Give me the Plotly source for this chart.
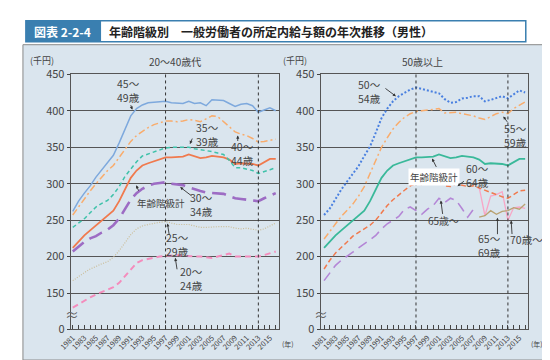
import plotly.graph_objects as go

years = list(range(1981, 2017))
years_65 = list(range(1981, 2008))
years_split = list(range(2008, 2017))

# Left panel (20~40s)
age45_49 = [262, 276, 287, 297, 309, 319, 328, 339, 356, 375, 393, 403, 408, 411, 412, 413, 413,
            411, 411, 410, 413, 410, 411, 407, 415, 415, 414, 410, 406, 409, 410, 407, 398, 401, 404, 400]
age40_44 = [257, 268, 280, 290, 300, 309, 318, 325, 336, 347, 358, 366, 372, 377, 381, 384, 386,
            386, 385, 386, 388, 387, 385, 389, 393, 392, 385, 377, 371, 368, 366, 362, 357, 358, 360, 361]
age35_39 = [240, 246, 252, 260, 268, 273, 277, 285, 296, 310, 320, 330, 338, 341, 344, 347, 349,
            350, 350, 350, 350, 348, 347, 345, 344, 342, 340, 332, 322, 322, 320, 318, 314, 316, 319, 322]
total = [212, 221, 229, 236, 243, 250, 257, 263, 276, 292, 308, 318, 325, 328, 331, 333, 336,
         336, 336, 337, 340, 337, 335, 336, 338, 337, 336, 333, 327, 328, 328, 327, 325, 330, 334, 334]
age30_34 = [207, 214, 220, 225, 228, 233, 237, 243, 252, 265, 278, 287, 293, 297, 300, 301, 302,
            300, 299, 298, 295, 292, 290, 288, 287, 287, 286, 283, 280, 279, 278, 277, 276, 280, 284, 287]
age25_29 = [167, 173, 178, 183, 187, 190, 193, 199, 208, 219, 230, 238, 242, 244, 246, 247, 248,
            246, 244, 244, 244, 242, 240, 240, 241, 241, 241, 241, 239, 238, 239, 238, 236, 238, 242, 246]
age20_24 = [130, 135, 139, 144, 148, 151, 154, 158, 164, 173, 183, 191, 195, 197, 199, 200, 201,
            202, 202, 201, 201, 200, 200, 199, 198, 200, 202, 204, 200, 200, 200, 200, 200, 202, 204, 207]

# Right panel (50+)
age50_54 = [257, 266, 279, 292, 303, 313, 324, 338, 351, 370, 390, 403, 413, 420, 425, 429, 432,
            430, 428, 427, 424, 416, 411, 412, 417, 418, 420, 420, 413, 415, 418, 420, 417, 423, 428, 425]
age55_59 = [224, 235, 245, 255, 263, 272, 283, 296, 314, 332, 350, 363, 375, 384, 391, 396, 399,
            400, 401, 402, 403, 397, 397, 398, 396, 395, 393, 390, 388, 392, 396, 398, 396, 403, 408, 412]
age60_64 = [183, 195, 205, 212, 220, 228, 233, 237, 243, 250, 260, 270, 278, 285, 291, 297, 300,
            299, 300, 303, 305, 297, 296, 300, 298, 296, 297, 294, 290, 287, 285, 282, 280, 285, 290, 291]
age65_over = [167, 178, 188, 195, 200, 206, 212, 217, 223, 229, 238, 245, 250, 255, 265, 268, 263,
              258, 265, 270, 280, 274, 280, 277, 266, 254, 265]
age65_69 = [254, 256, 263, 258, 262, 263, 267, 265, 272]
age70_over = [295, 256, 283, 285, 289, 250, 267, 268, 266]

y_tickvals = [100, 150, 200, 250, 300, 350, 400, 450]
y_ticktext = ["0", "150", "200", "250", "300", "350", "400", "450"]
x_label_years = list(range(1981, 2017, 2))

W, H = 550, 360
FONT = "Noto Sans CJK JP"


def px(x):
    return x / W


def py(y):
    return 1 - y / H


fig = go.Figure()


def add(x, y, color, dash, width, xa, ya, name):
    fig.add_trace(go.Scatter(x=x, y=y, mode="lines", name=name, xaxis=xa, yaxis=ya,
                             line=dict(color=color, dash=dash, width=width),
                             showlegend=False, hoverinfo="skip"))


# left
add(years, age20_24, "#f48cbc", "6px,4px", 2.0, "x", "y", "20～24歳")
add(years, age25_29, "#cbbd98", "1px,1.5px", 1.2, "x", "y", "25～29歳")
add(years, age30_34, "#9d6cc4", "14px,7px", 2.6, "x", "y", "30～34歳")
add(years, total, "#f07a4e", "solid", 1.8, "x", "y", "年齢階級計")
add(years, age35_39, "#3fc2aa", "4px,3px", 1.5, "x", "y", "35～39歳")
add(years, age40_44, "#f9ac6c", "7px,3px,2px,3px", 1.5, "x", "y", "40～44歳")
add(years, age45_49, "#7ea9dd", "solid", 1.5, "x", "y", "45～49歳")

# right
add(years_65, age65_over, "#b486d6", "10px,6px", 1.6, "x2", "y2", "65歳～")
add(years_split, age70_over, "#f8a6c6", "solid", 1.3, "x2", "y2", "70歳～")
add(years_split, age65_69, "#b9a272", "solid", 1.3, "x2", "y2", "65～69歳")
add(years, age60_64, "#f07a4e", "5px,3px", 1.5, "x2", "y2", "60～64歳")
add(years, total, "#3ab99a", "solid", 1.8, "x2", "y2", "年齢階級計")
add(years, age55_59, "#f9ac6c", "7px,3px,2px,3px", 1.5, "x2", "y2", "55～59歳")
add(years, age50_54, "#4a80e0", "2px,2px", 2.0, "x2", "y2", "50～54歳")

ydom = [py(327), py(60)]
xdom_l = [px(51), px(264)]
xdom_r = [px(307), px(519)]

common_x = dict(
    tickmode="array", tickvals=years,
    ticktext=[str(y) if y in x_label_years else "" for y in years],
    tickangle=-45, ticks="inside", ticklen=4, tickcolor="#444", tickwidth=1,
    tickfont=dict(family=FONT, size=7.5, color="#444"),
    showgrid=False, zeroline=False, showline=True, linecolor="#555", linewidth=1.2,
    mirror=True, fixedrange=True,
)
common_y = dict(
    range=[100, 450], tickmode="array", tickvals=y_tickvals, ticktext=y_ticktext,
    ticks="outside", ticklen=3, tickcolor="#444",
    tickfont=dict(family=FONT, size=11, color="#444"),
    showgrid=True, gridcolor="#555", gridwidth=1, zeroline=False,
    showline=True, linecolor="#555", linewidth=1.2, mirror=True, fixedrange=True,
)

fig.update_layout(
    width=W, height=H, margin=dict(l=0, r=0, t=0, b=0),
    paper_bgcolor="white", plot_bgcolor="white",
    xaxis=dict(domain=xdom_l, range=[1980.66, 2016.52], anchor="y", **common_x),
    yaxis=dict(domain=ydom, anchor="x", **common_y),
    xaxis2=dict(domain=xdom_r, range=[1980.42, 2016.45], anchor="y2", **common_x),
    yaxis2=dict(domain=ydom, anchor="x2", **common_y),
    font=dict(family=FONT),
)

shapes = []
# panel background
shapes.append(dict(type="rect", xref="paper", yref="paper", x0=px(2), x1=px(548), y0=py(359), y1=py(29),
                   fillcolor="#dae5ee", line=dict(color="#888", width=1), layer="below"))
# title bar
shapes.append(dict(type="rect", xref="paper", yref="paper", x0=px(5), x1=px(517), y0=py(26), y1=py(4),
                   fillcolor="white", line=dict(color="#3a7fb0", width=1.5), layer="below"))
shapes.append(dict(type="rect", xref="paper", yref="paper", x0=px(5), x1=px(82), y0=py(26), y1=py(4),
                   fillcolor="#3a7fb0", line=dict(width=0), layer="below"))
# vertical dotted reference lines
for xr in ["x", "x2"]:
    for yr in [1997, 2013]:
        shapes.append(dict(type="line", xref=xr, yref="paper", x0=yr, x1=yr, y0=ydom[0], y1=ydom[1],
                           line=dict(color="#333", width=1, dash="dot")))
fig.update_layout(shapes=shapes)

ann = []


def text(x, y, t, size=10.5, color="#444", xanchor="center", bold=False, bg=None):
    d = dict(x=px(x), y=py(y), xref="paper", yref="paper", text=("<b>%s</b>" % t) if bold else t,
             showarrow=False, xanchor=xanchor, yanchor="middle",
             font=dict(family=FONT, size=size, color=color))
    if bg:
        d["bgcolor"] = bg
    ann.append(d)


def arrow(x0, y0, x1, y1):
    # tail (x0,y0) -> tip (x1,y1), pixel positions on the page
    ann.append(dict(x=px(x1), y=py(y1), xref="paper", yref="paper", text="",
                    showarrow=True, ax=x0 - x1, ay=y0 - y1, axref="pixel", ayref="pixel",
                    arrowhead=2, arrowsize=0.7, arrowwidth=0.9, arrowcolor="#333"))


# title
text(43, 15, "図表 2-2-4", size=12, color="white", bold=True)
text(88, 15, "年齢階級別　一般労働者の所定内給与額の年次推移（男性）", size=12, color="#222",
     xanchor="left", bold=True)
# panel headings
text(22, 46, "(千円)", size=9)
text(158, 47, "20～40歳代", size=10)
text(281, 46, "(千円)", size=9)
text(411, 47, "50歳以上", size=10)
text(273, 342, "(年)", size=7)
text(528, 342, "(年)", size=7)
# axis break marks
text(52, 311, "≈", size=14, color="#666")
text(307, 311, "≈", size=14, color="#666")

# left labels
text(110, 77, "45～<br>49歳", size=10.5)
arrow(112, 91, 114, 97)
text(191, 123, "35～<br>39歳", size=10.5)
arrow(176, 126, 173, 133)
text(227, 143, "40～<br>44歳", size=10.5)
arrow(222, 131, 222, 124)
text(143, 195, "年齢階級計", size=9.5)
arrow(121, 183, 118, 176)
text(185, 196, "30～<br>34歳", size=10.5)
arrow(176, 188, 163, 178)
text(160, 238, "25～<br>29歳", size=10.5)
arrow(152, 229, 150, 216)
text(175, 274, "20～<br>24歳", size=10.5)
arrow(160, 265, 158, 252)

# right labels
text(357, 78, "50～<br>54歳", size=10.5)
arrow(372, 74, 384, 83)
text(506, 124, "55～<br>59歳", size=10.5)
arrow(499, 111, 494, 104)
text(423, 167, "年齢階級計", size=9.5, bg="white")
arrow(426, 158, 421, 148)
text(468, 166, "60～<br>64歳", size=10.5)
arrow(455, 171, 447, 177)
text(433, 213, "65歳～", size=10)
arrow(432, 207, 430, 192)
text(480, 239, "65～<br>69歳", size=10.5)
arrow(488, 228, 488, 210)
text(518, 233, "70歳～", size=10.5)
arrow(503, 228, 502, 213)

fig.update_layout(annotations=ann)

fig.write_html("out.html")
